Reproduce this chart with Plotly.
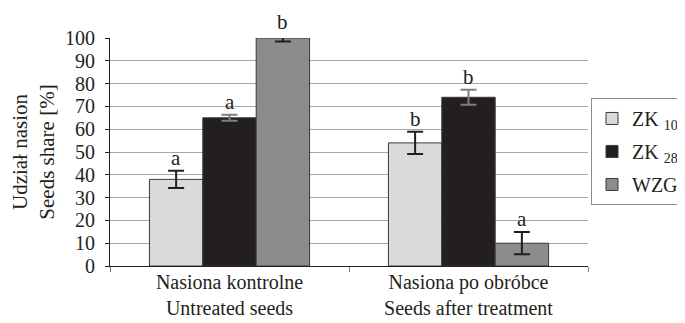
import plotly.graph_objects as go

categories = ["Nasiona kontrolne<br>Untreated seeds", "Nasiona po obróbce<br>Seeds after treatment"]
series_names = ["ZK <sub>10</sub>", "ZK <sub>28</sub>", "WZG"]
zk10 = [38, 54]
zk28 = [65, 74]
wzg = [100, 10]
zk10_err = [3.8, 4.9]
zk28_err = [1.3, 3.3]
wzg_err = [1.5, 4.9]
zk10_letters = ["a", "b"]
zk28_letters = ["a", "b"]
wzg_letters = ["b", "a"]
y_ticks = [0, 10, 20, 30, 40, 50, 60, 70, 80, 90, 100]
y_range = [0, 100]

values = [zk10, zk28, wzg]
errors = [zk10_err, zk28_err, wzg_err]
letters = [zk10_letters, zk28_letters, wzg_letters]
fills = ["#d9dadc", "#231f20", "#8b8c8e"]
err_colors = ["#231f20", "#808080", "#231f20"]

FONT = "Liberation Serif, Times New Roman, serif"
bargap = 0.33

fig = go.Figure()
for i in range(3):
    fig.add_trace(go.Bar(
        x=categories, y=values[i], name=series_names[i],
        legendgroup=str(i),
        marker=dict(color=fills[i], line=dict(color="#3a3a3a", width=1)),
        error_y=dict(type="data", array=errors[i], visible=True,
                     color=err_colors[i], thickness=2, width=8),
    ))

bw = (1 - bargap) / 3
annotations = []
for i in range(3):
    for c in range(2):
        top = values[i][c] + errors[i][c]
        annotations.append(dict(
            x=c + (i - 1) * bw, xref="x",
            y=(top - y_range[0]) / (y_range[1] - y_range[0]), yref="paper",
            text=letters[i][c], showarrow=False,
            yanchor="bottom", yshift=-1,
            font=dict(family=FONT, size=21, color="#231f20"),
        ))

W, H = 677, 315
ML, MR, MT, MB = 102, 97, 30, 57
plot_w = W - ML - MR

# page body adds an 8px offset; figure is sized to fill the remaining window
fig.update_layout(
    width=W, height=H,
    margin=dict(l=ML, r=MR, t=MT, b=MB, autoexpand=False),
    paper_bgcolor="white", plot_bgcolor="white",
    barmode="group", bargap=bargap, bargroupgap=0,
    font=dict(family=FONT, size=20, color="#231f20"),
    showlegend=True,
    legend=dict(x=(W - ML - 1) / plot_w, y=0.737, xanchor="right", yanchor="top",
                bordercolor="#8c8c8c", borderwidth=1,
                font=dict(family=FONT, size=20, color="#231f20"),
                tracegroupgap=4, itemwidth=30),
    annotations=annotations,
)
fig.update_yaxes(
    range=y_range, tickvals=y_ticks, showgrid=True, gridcolor="#a6a6a6", gridwidth=1,
    showline=True, linecolor="#231f20", linewidth=1,
    ticks="outside", ticklen=4, tickcolor="#231f20",
    tickfont=dict(family=FONT, size=20, color="#231f20"),
    ticklabelstandoff=6, automargin=False,
    title=dict(text="Udział nasion<br>Seeds share [%]", standoff=6,
               font=dict(family=FONT, size=21, color="#231f20")),
    zeroline=False,
)
fig.update_xaxes(
    showline=True, linecolor="#231f20", linewidth=1,
    ticks="outside", tickson="boundaries", ticklen=5, tickcolor="#808080",
    tickfont=dict(family=FONT, size=20, color="#231f20"),
    ticklabelstandoff=-2, automargin=False,
    showgrid=False,
)

fig.write_html("out.html")
